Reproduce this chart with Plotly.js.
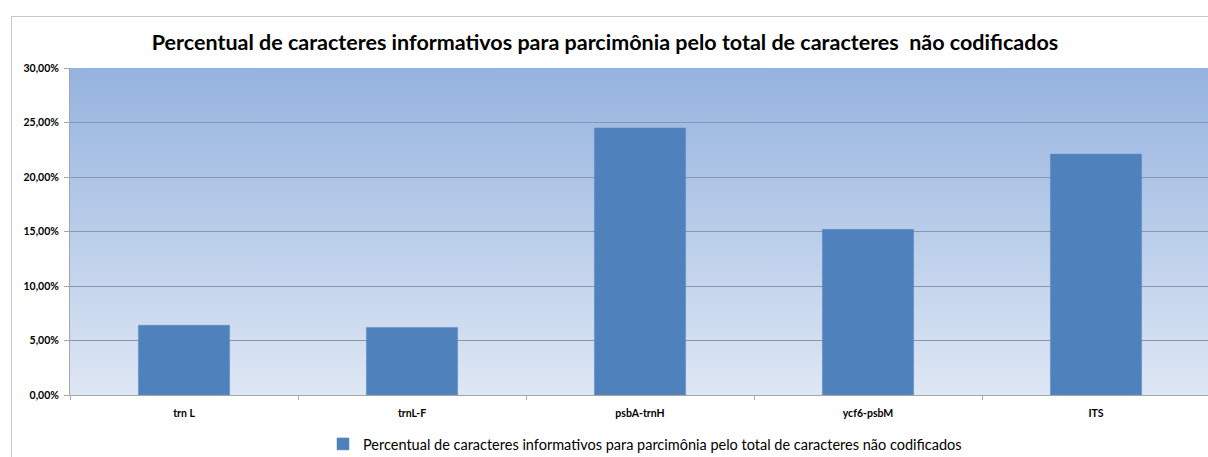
<!DOCTYPE html>
<html>
<head>
<meta charset="utf-8">
<script src="https://cdn.plot.ly/plotly-3.0.1.min.js"></script>
<style>
html,body{margin:0;padding:0;background:#fff;overflow:hidden;width:1208px;height:457px;}
#wrap{position:relative;width:1208px;height:457px;overflow:hidden;}
#chart{position:absolute;left:0;top:0;width:1210px;height:475px;}
#frame{position:absolute;left:11px;top:16px;width:1250px;height:500px;border:1px solid #C8C8C8;pointer-events:none;}
</style>
</head>
<body>
<div id="wrap"><div id="chart"></div><div id="frame"></div></div>
<script>
const categories = ["trn L", "trnL-F", "psbA-trnH", "ycf6-psbM", "ITS"];
const values = [0.064, 0.062, 0.245, 0.152, 0.221];
const seriesName = "Percentual de caracteres informativos para parcimônia pelo total de caracteres não codificados";
const chartTitle = "Percentual de caracteres informativos para parcimônia pelo total de caracteres  não codificados";
const yTickVals = [0, 0.05, 0.10, 0.15, 0.20, 0.25, 0.30];

const grad = 'data:image/svg+xml;utf8,' + encodeURIComponent(
  '<svg xmlns="http://www.w3.org/2000/svg" width="100" height="100" preserveAspectRatio="none">' +
  '<defs><linearGradient id="g" x1="0" y1="0" x2="0" y2="1">' +
  '<stop offset="0" stop-color="#95B3DF"/><stop offset="1" stop-color="#DEE7F4"/>' +
  '</linearGradient></defs><rect width="100" height="100" fill="url(#g)"/></svg>');

const trace = {
  type: 'bar',
  x: categories,
  y: values,
  name: seriesName,
  marker: {color: '#4F81BD', line: {color: '#5A8AC6', width: 0.5}},
  showlegend: true,
  hoverinfo: 'x+y'
};

const H = 475;
const layout = {
  width: 1210, height: H,
  margin: {l: 70, r: 0, t: 68, b: H - 395},
  paper_bgcolor: 'rgba(0,0,0,0)',
  plot_bgcolor: 'rgba(0,0,0,0)',
  separators: ',.',
  font: {family: 'Lato, "Open Sans", sans-serif', color: '#000'},
  title: {
    text: chartTitle,
    font: {family: 'Lato, "Open Sans", sans-serif', size: 21.5, color: '#000', weight: 'bold'},
    x: 0.5, xref: 'container', xanchor: 'center',
    y: 1 - 42/H, yref: 'container', yanchor: 'middle'
  },
  bargap: 0.6,
  xaxis: {
    type: 'category',
    showgrid: false,
    showline: true, linecolor: '#A6A6A6', linewidth: 1,
    ticks: 'outside', ticklen: 4, tickcolor: '#A6A6A6',
    tickson: 'boundaries',
    ticklabelstandoff: 8,
    tickfont: {size: 10.5, color: '#000', weight: 'bold'},
    fixedrange: true
  },
  yaxis: {
    range: [0, 0.30],
    tickvals: yTickVals,
    tickformat: '.2%',
    showgrid: true, gridcolor: '#8A96A8', gridwidth: 1,
    showline: true, linecolor: '#A6A6A6', linewidth: 1,
    ticks: 'outside', ticklen: 5, tickcolor: '#A6A6A6',
    ticklabelstandoff: 3,
    tickfont: {size: 10.5, color: '#000', weight: 'bold'},
    zeroline: false,
    fixedrange: true
  },
  legend: {
    orientation: 'h',
    x: 0.5 + 5/1140, xanchor: 'center',
    y: -(444 - 395) / 327, yanchor: 'middle',
    font: {size: 14.5, color: '#000', family: 'Lato, "Open Sans", sans-serif'},
    itemwidth: 30
  },
  images: [{
    source: grad,
    xref: 'paper', yref: 'paper',
    x: 0, y: 1, sizex: 1, sizey: 1,
    xanchor: 'left', yanchor: 'top',
    sizing: 'stretch', layer: 'below'
  }]
};

Plotly.newPlot('chart', [trace], layout, {displayModeBar: false, staticPlot: true});
</script>
</body>
</html>
